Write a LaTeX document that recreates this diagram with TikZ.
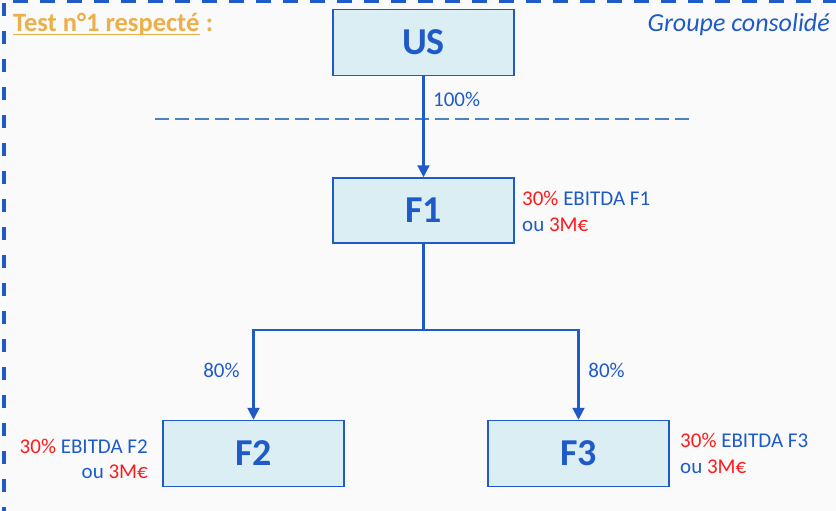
\documentclass[tikz,border=0pt]{standalone}
\usepackage{fontspec}
\setmainfont{Carlito}
\usetikzlibrary{arrows.meta}
\definecolor{bg}{HTML}{FAFAFA}
\definecolor{dblue}{HTML}{1F5BC8}
\definecolor{boxfill}{HTML}{DAEEF3}
\definecolor{steel}{HTML}{4F81BD}
\definecolor{gold}{HTML}{EBB04A}
\definecolor{rred}{HTML}{FF1A1A}
\tikzset{
  entity/.style={draw=dblue, line width=1.5pt, fill=boxfill, minimum width=181pt, minimum height=66pt, inner sep=0pt,
    text=dblue, font=\fontsize{38}{44}\selectfont\bfseries},
  link/.style={draw=dblue, line width=2.2pt},
  arr/.style={link, -{Triangle[length=12pt,width=12pt]}},
  pct/.style={text=dblue, font=\fontsize{21}{25}\selectfont, inner sep=0pt},
  note/.style={text=dblue, font=\fontsize{21}{25}\selectfont, inner sep=0pt},
}
\begin{document}
\begin{tikzpicture}[x=1pt,y=-1pt]
\fill[bg] (0,0) rectangle (836,511);
\useasboundingbox (0,0) rectangle (836,511);
% border
\draw[dblue, line width=3pt, dash pattern=on 15pt off 12pt] (13,1.5) -- (836,1.5);
\draw[dblue, line width=4pt, dash pattern=on 13pt off 15pt] (4,3) -- (4,511);
% titles
\node[anchor=base west, inner sep=0pt, text=gold, font=\fontsize{26.5}{30}\selectfont\bfseries] (title) at (13,32) {Test n°1 respecté};
\node[anchor=base west, inner sep=0pt, text=gold, font=\fontsize{26.5}{30}\selectfont\bfseries] (colon) at ([xshift=6pt]title.base east) {:};
\draw[gold, line width=1.6pt] ([yshift=-2.5pt]title.base west) -- ([yshift=-2.5pt]title.base east);
\node[anchor=base east, inner sep=0pt, text=dblue, font=\fontsize{26}{30}\selectfont\itshape] (grp) at (830,32) {Groupe consolidé};
% boxes
\node[entity] (US) at (423.5,42.5) {US};
\node[entity, minimum height=65pt] (F1) at (423.5,210.5) {F1};
\node[entity] (F2) at (253.5,453.5) {F2};
\node[entity] (F3) at (578.5,453.5) {F3};
% dashed separator
\draw[steel, line width=1.5pt, dash pattern=on 14pt off 6pt] (155,119) coordinate (sepL) -- (690,119) coordinate (sepR);
% arrows
\draw[arr] (US.south) -- (F1.north);
\coordinate (J) at (423.5,330);
\coordinate (JL) at (F2.north |- J);
\coordinate (JR) at (F3.north |- J);
\draw[link] (F1.south) -- (J);
\draw[link, line cap=rect] (JL) -- (JR);
\draw[arr] (JL) -- (F2.north);
\draw[arr] (JR) -- (F3.north);
% labels
\node[pct, anchor=west] (p100) at (433,99) {100\%};
\node[pct, anchor=center] (p80a) at (221.5,370) {80\%};
\node[pct, anchor=center] (p80b) at (606.5,370) {80\%};
\node[note, anchor=west] (n1a) at (522,198.5) {\textcolor{rred}{30\%} EBITDA F1};
\node[note, anchor=west] (n1b) at (522,224.5) {ou \textcolor{rred}{3M€}};
\node[note, anchor=east] (n2a) at (148,446) {\textcolor{rred}{30\%} EBITDA F2};
\node[note, anchor=east] (n2b) at (148,472) {ou \textcolor{rred}{3M€}};
\node[note, anchor=west] (n3a) at (680,440) {\textcolor{rred}{30\%} EBITDA F3};
\node[note, anchor=west] (n3b) at (680,467) {ou \textcolor{rred}{3M€}};
\end{tikzpicture}
\end{document}
